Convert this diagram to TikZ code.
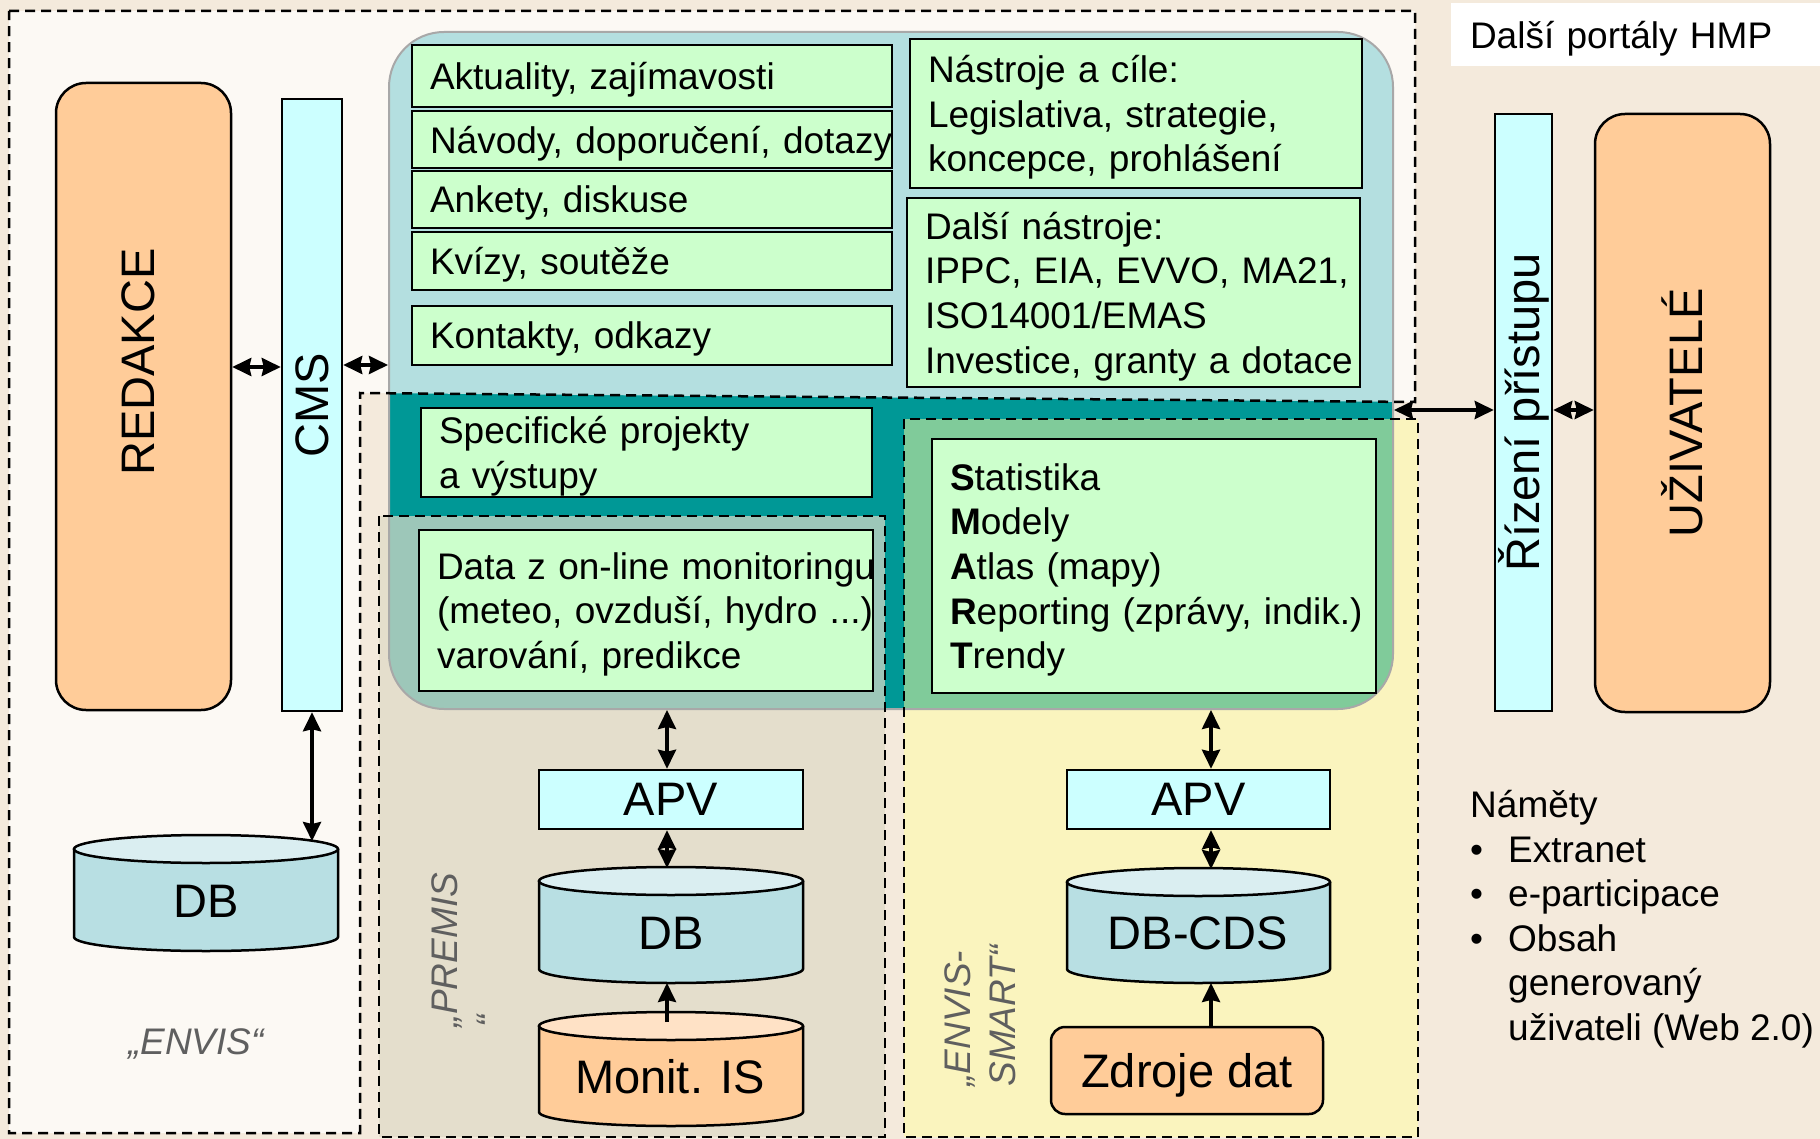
\documentclass[tikz,border=0pt]{standalone}
\usepackage{fontspec}
\setmainfont{Liberation Sans}
\usetikzlibrary{arrows.meta}
\definecolor{bgbeige}{HTML}{F4EADC}
\definecolor{envisbg}{HTML}{FCF9F4}
\definecolor{premisbg}{HTML}{E4DECC}
\definecolor{smartbg}{HTML}{FAF4BE}
\definecolor{panelblue}{HTML}{B4DFE0}
\definecolor{panelteal}{HTML}{009896}
\definecolor{panelpremis}{HTML}{9DC7B9}
\definecolor{panelsmart}{HTML}{80CB9A}
\definecolor{boxgreen}{HTML}{CCFFCC}
\definecolor{boxcyan}{HTML}{CCFFFF}
\definecolor{peach}{HTML}{FFCC99}
\definecolor{peachtop}{HTML}{FFE2C6}
\definecolor{dbbody}{HTML}{B8DFE3}
\definecolor{dbtop}{HTML}{DAEEF1}
\definecolor{labelgray}{HTML}{5F5F5F}
\definecolor{panelline}{HTML}{A8A8A8}
\newcommand\oneline[1]{\mbox{#1}}
\newcommand\lastline[1]{\raisebox{0pt}[\height][0pt]{#1}}
\newcommand\drawcyl[6]{%
  \fill[#5] (#1-#2,#3) rectangle (#1+#2,#4);
  \fill[#5] (#1,#4) ellipse[x radius=#2pt, y radius=14pt];
  \draw[cylline] (#1-#2,#3) -- (#1-#2,#4) arc[start angle=180,end angle=360,x radius=#2pt,y radius=14pt] -- (#1+#2,#3);
  \filldraw[fill=#6, cylline] (#1,#3) ellipse[x radius=#2pt, y radius=14pt];
}
\begin{document}
\begin{tikzpicture}[x=1pt,y=-1pt,
  >={Stealth[length=19pt 0 0,width=18pt 0 0,inset=2pt 0 0]},
  bodyfont/.style={font=\fontsize{37}{44.6}\selectfont},
  bigfont/.style={font=\fontsize{47}{56}\selectfont},
  greenbox/.style={draw, line width=2.5pt, fill=boxgreen, align=left, inner xsep=18pt, inner ysep=0pt, bodyfont},
  cyanbox/.style={draw, line width=2.5pt, fill=boxcyan, inner sep=0pt, bigfont},
  peachbox/.style={draw, line width=2.5pt, fill=peach, inner sep=0pt, bigfont},
  graylabel/.style={font=\fontsize{37}{44.6}\selectfont\itshape, text=labelgray, inner sep=0pt},
  regionline/.style={draw=black, line width=2.5pt, dash pattern=on 10pt off 6pt},
  link/.style={line width=3.5pt},
  cylline/.style={line width=2.5pt}
]
\useasboundingbox (0,0) rectangle (1820,1139);
\fill[bgbeige] (0,0) rectangle (1820,1139);

% regions
\fill[envisbg] (9,11) -- (1415,11) -- (1415,402) -- (360,393) -- (360,1133) -- (9,1133) -- cycle;
\fill[premisbg] (379,516) rectangle (885,1137);
\fill[smartbg] (904,419) rectangle (1418,1137);

% panel fills
\begin{scope}
  \clip[rounded corners=55pt] (389,32) rectangle (1393,709);
  \fill[panelteal] (389,32) rectangle (1393,709);
  \fill[panelblue] (9,11) -- (1415,11) -- (1415,402) -- (360,393) -- (360,1133) -- (9,1133) -- cycle;
  \fill[panelpremis] (379,516) rectangle (885,1137);
  \fill[panelsmart] (904,419) rectangle (1418,1137);
\end{scope}
\node[draw=panelline, line width=2pt, rounded corners=55pt, minimum width=1004pt, minimum height=677pt, inner sep=0pt] (panel) at (891,370.5) {};

% dashed region outlines
\draw[regionline] (9,11) -- (1415,11) -- (1415,402) -- (360,393) -- (360,1133) -- (9,1133) -- cycle;
\draw[regionline] (379,516) rectangle (885,1137);
\draw[regionline] (904,419) rectangle (1418,1137);

% white box top right
\node[fill=white, bodyfont, minimum width=369pt, minimum height=63pt, text width=331pt, inner xsep=19pt, inner ysep=0pt, align=left] (dalsi) at (1635.5,34.5) {\lastline{Další portály HMP}};

% green boxes
\node[greenbox, text width=444pt, minimum height=62pt] (akt) at (652,76) {\lastline{Aktuality, zajímavosti}};
\node[greenbox, text width=444pt, minimum height=57pt] (nav) at (652,139.5) {\lastline{Návody, doporučení, dotazy}};
\node[greenbox, text width=444pt, minimum height=57pt] (ank) at (652,199.5) {\lastline{Ankety, diskuse}};
\node[greenbox, text width=444pt, minimum height=58pt] (kvi) at (652,261) {\lastline{Kvízy, soutěže}};
\node[greenbox, text width=444pt, minimum height=59pt] (kon) at (652,335.5) {\lastline{Kontakty, odkazy}};
\node[greenbox, text width=416pt, minimum height=149pt] (nas) at (1136,113.5) {\oneline{Nástroje a cíle:}\\\oneline{Legislativa, strategie,}\\\lastline{koncepce, prohlášení}};
\node[greenbox, text width=417pt, minimum height=189pt] (dal) at (1133.5,292.5) {\oneline{Další nástroje:}\\\oneline{IPPC, EIA, EVVO, MA21,}\\\oneline{ISO14001/EMAS}\\\lastline{Investice, granty a dotace}};
\node[greenbox, text width=415pt, minimum height=89pt] (spe) at (646.5,452.5) {\oneline{Specifické projekty}\\\lastline{a výstupy}};
\node[greenbox, text width=418pt, minimum height=161pt] (dat) at (646,610.5) {\oneline{Data z on-line monitoringu}\\\oneline{(meteo, ovzduší, hydro ...)}\\\lastline{varování, predikce}};
\node[greenbox, text width=408pt, minimum height=254pt] (sta) at (1154,566) {\oneline{\textbf{S}tatistika}\\\oneline{\textbf{M}odely}\\\oneline{\textbf{A}tlas (mapy)}\\\oneline{\textbf{R}eporting (zprávy, indik.)}\\\lastline{\textbf{T}rendy}};

% cyan boxes
\node[cyanbox, minimum width=60pt, minimum height=612pt] (cms) at (312,405) {\rotatebox{90}{CMS}};
\node[cyanbox, minimum width=57pt, minimum height=597pt] (rizeni) at (1523.5,412.5) {\rotatebox{90}{Řízení přístupu}};
\node[cyanbox, minimum width=264pt, minimum height=59pt] (apv1) at (671,799.5) {APV};
\node[cyanbox, minimum width=263pt, minimum height=59pt] (apv2) at (1198.5,799.5) {APV};

% peach boxes
\node[peachbox, rounded corners=30pt, minimum width=175pt, minimum height=627pt] (redakce) at (143.5,396.5) {};
\node[bigfont, rotate=90, inner sep=0pt] (redakcetxt) at (138.5,362) {REDAKCE};
\node[peachbox, rounded corners=30pt, minimum width=175pt, minimum height=598pt] (uziv) at (1682.5,413) {\rotatebox{90}{UŽIVATELÉ}};
\node[peachbox, rounded corners=14pt, minimum width=272pt, minimum height=87pt] (zdroje) at (1187,1070.5) {\lastline{Zdroje dat}};

% cylinders
\drawcyl{206}{132}{849}{937}{dbbody}{dbtop}
\drawcyl{671}{132}{881}{969}{dbbody}{dbtop}
\drawcyl{671}{132}{1026}{1112}{peach}{peachtop}
\drawcyl{1198.5}{131.5}{882}{969}{dbbody}{dbtop}
\node[bigfont, inner sep=0pt] (db1) at (206,901) {DB};
\node[bigfont, inner sep=0pt] (db2) at (671,933) {DB};
\node[bigfont, inner sep=0pt] (monit) at (670,1077) {Monit. IS};
\node[bigfont, inner sep=0pt] (dbcds) at (1198,933) {DB-CDS};

% gray labels
\node[graylabel] (envislbl) at (196,1044) {„ENVIS“};
\node[graylabel, rotate=90, align=left] (premislbl) at (467,950) {„PREMIS\\“};
\node[graylabel, rotate=90, align=left] (smartlbl) at (980,1016) {„ENVIS-\\SMART“};

% ideas list
\node[bodyfont, anchor=north west, align=left, inner sep=0pt] (namety) at (1470,790) {Náměty\\\makebox[38pt][l]{•}Extranet\\\makebox[38pt][l]{•}e-participace\\\makebox[38pt][l]{•}Obsah\\\makebox[38pt][l]{}generovaný\\\makebox[38pt][l]{}uživateli (Web 2.0)};

% connectors
\coordinate (ya) at (0,367);
\coordinate (yb) at (0,365);
\coordinate (yc) at (0,410);
\coordinate (xp) at (667,0);
\coordinate (xs) at (1211,0);
\coordinate (db1top) at (312,841);
\coordinate (db2top) at (667,868);
\coordinate (db2bot) at (667,983);
\coordinate (monittop) at (667,1022);
\coordinate (cdstop) at (1211,869);
\coordinate (cdsbot) at (1211,983);

\draw[link,<->] (redakce.east |- ya) -- (cms.west |- ya);
\draw[link,<->] (cms.east |- yb) -- (panel.west |- yb);
\draw[link,<->] (panel.east |- yc) -- (rizeni.west |- yc);
\draw[link,<->] (rizeni.east |- yc) -- (uziv.west |- yc);
\draw[link,<->] (cms.south) -- (db1top);
\draw[link,<->] (panel.south -| xp) -- (apv1.north -| xp);
\draw[link,<->] (apv1.south -| xp) -- (db2top);
\draw[link,->] (monittop) -- (db2bot);
\draw[link,<->] (panel.south -| xs) -- (apv2.north -| xs);
\draw[link,<->] (apv2.south -| xs) -- (cdstop);
\draw[link,->] (zdroje.north -| xs) -- (cdsbot);
\end{tikzpicture}
\end{document}
